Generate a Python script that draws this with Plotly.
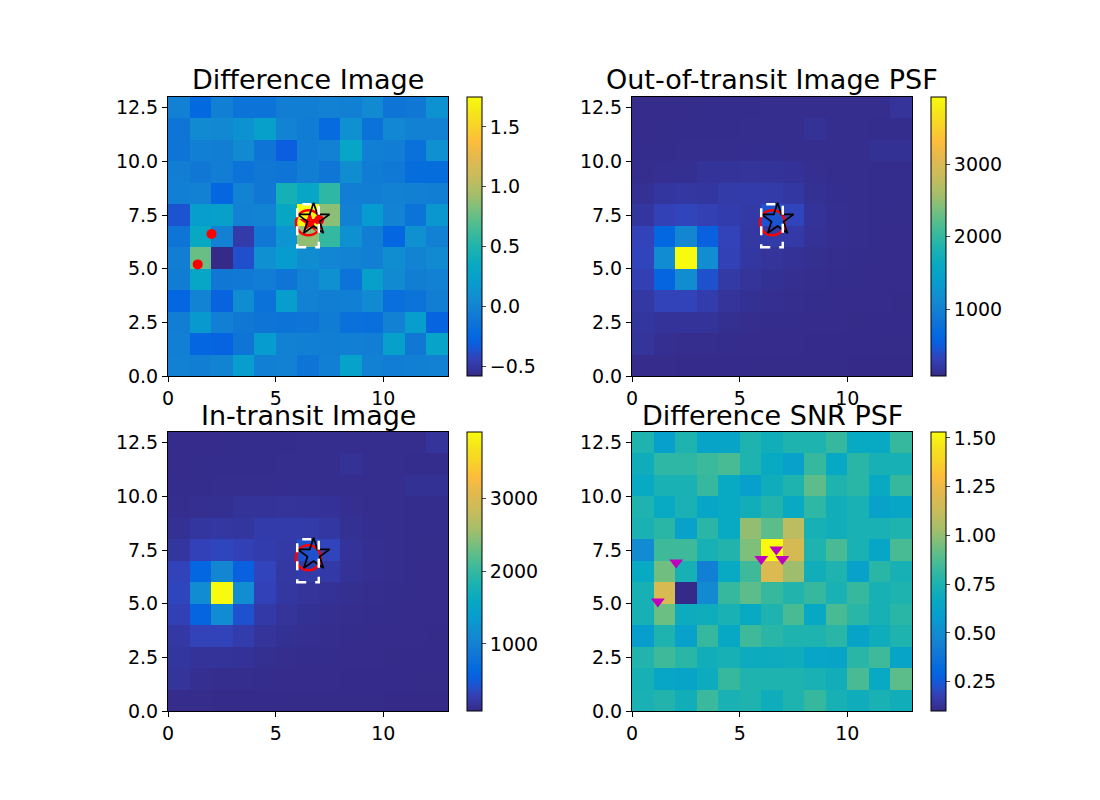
import plotly.graph_objects as go

# parula-like colour scale (matplotlib/MATLAB style)
parula = [
    [0.000, "#352a87"], [0.063, "#3243ba"], [0.111, "#0f5cdd"], [0.143, "#0268e1"],
    [0.206, "#1077d5"], [0.270, "#1389d2"], [0.333, "#079ccf"], [0.397, "#07a9c2"],
    [0.460, "#1db3af"], [0.524, "#42bb98"], [0.587, "#71bf80"], [0.651, "#a5be6a"],
    [0.714, "#c8bc5b"], [0.778, "#e1b94e"], [0.841, "#fdbd3c"], [0.889, "#f8d12a"],
    [0.937, "#f5e21c"], [1.000, "#f9fb0e"],
]

# rows listed from y=0 (bottom) to y=12 (top), 13 columns each
diff_image = [
    [-0.02, -0.04, -0.01, 0.22, -0.03, -0.02, -0.12, -0.03, 0.26, -0.02, -0.05, -0.03, -0.02],
    [-0.03, -0.26, -0.27, -0.12, 0.20, -0.02, -0.03, -0.04, -0.03, -0.05, 0.24, -0.10, 0.28],
    [-0.04, 0.18, -0.03, -0.10, -0.12, -0.13, -0.12, -0.06, -0.16, -0.18, -0.02, 0.22, -0.27],
    [-0.26, -0.01, -0.28, 0.08, -0.15, 0.22, -0.02, -0.04, -0.03, 0.06, -0.18, -0.14, -0.04],
    [-0.06, 0.30, -0.10, -0.09, -0.05, -0.12, 0.00, 0.10, -0.14, 0.24, 0.06, -0.04, -0.02],
    [-0.04, 0.76, -0.58, -0.38, 0.10, 0.20, 0.08, 0.02, 0.00, -0.03, 0.08, -0.01, 0.06],
    [-0.12, 0.34, -0.02, -0.48, -0.10, 0.14, 0.88, 0.58, 0.10, -0.04, -0.26, 0.10, -0.02],
    [-0.36, 0.22, 0.24, -0.02, 0.00, 0.32, 1.75, 0.86, -0.02, 0.20, 0.00, -0.14, 0.16],
    [-0.03, -0.02, -0.26, -0.01, -0.10, 0.44, 0.30, 0.56, -0.05, -0.04, -0.02, -0.03, -0.04],
    [-0.04, -0.10, -0.05, -0.14, -0.10, -0.12, -0.04, -0.11, 0.08, -0.06, -0.08, -0.20, -0.20],
    [-0.12, -0.03, -0.04, 0.06, -0.12, -0.30, -0.05, -0.02, 0.30, -0.03, -0.05, -0.16, 0.10],
    [-0.12, 0.06, 0.04, 0.12, 0.24, 0.00, -0.06, -0.22, 0.10, -0.15, 0.04, -0.02, -0.02],
    [-0.02, -0.24, -0.03, -0.14, -0.14, -0.04, -0.04, -0.02, -0.03, 0.06, -0.12, -0.10, 0.12],
]

oot_image = [
    [100, 96, 92, 90, 88, 86, 85, 84, 83, 82, 80, 78, 76],
    [170, 120, 115, 110, 105, 100, 96, 94, 92, 90, 88, 86, 84],
    [190, 160, 165, 160, 130, 115, 108, 104, 100, 96, 92, 90, 88],
    [210, 310, 320, 250, 170, 140, 125, 115, 108, 102, 98, 95, 92],
    [290, 600, 1160, 420, 220, 170, 140, 125, 115, 108, 102, 98, 95],
    [330, 1150, 3928, 1180, 300, 200, 170, 150, 130, 115, 108, 102, 98],
    [310, 620, 1080, 560, 320, 210, 240, 230, 150, 120, 110, 104, 100],
    [190, 300, 330, 290, 250, 220, 440, 330, 165, 125, 112, 106, 102],
    [140, 190, 200, 195, 240, 245, 240, 200, 140, 118, 110, 106, 104],
    [115, 125, 130, 165, 165, 170, 165, 155, 120, 112, 110, 108, 108],
    [105, 108, 110, 112, 115, 118, 118, 115, 112, 110, 112, 140, 140],
    [100, 102, 104, 106, 108, 110, 112, 114, 150, 114, 110, 108, 108],
    [98, 100, 102, 104, 106, 108, 110, 112, 114, 114, 112, 114, 170],
]

intransit_image = [
    [100, 96, 92, 90, 88, 86, 85, 84, 83, 82, 80, 78, 76],
    [172, 120, 114, 110, 105, 100, 96, 94, 92, 90, 88, 86, 84],
    [188, 162, 166, 158, 130, 115, 108, 104, 100, 96, 92, 90, 88],
    [212, 312, 318, 252, 170, 140, 125, 115, 108, 102, 98, 95, 92],
    [292, 596, 1150, 424, 222, 170, 140, 125, 115, 108, 102, 98, 95],
    [332, 1146, 3915, 1176, 302, 200, 170, 150, 130, 115, 108, 102, 98],
    [312, 616, 1076, 556, 322, 210, 236, 226, 150, 120, 110, 104, 100],
    [190, 302, 332, 292, 252, 220, 420, 322, 165, 125, 112, 106, 102],
    [140, 190, 200, 196, 240, 244, 236, 200, 140, 118, 110, 106, 104],
    [115, 125, 130, 165, 165, 170, 165, 155, 120, 112, 110, 108, 108],
    [105, 108, 110, 112, 115, 118, 118, 115, 112, 110, 112, 140, 140],
    [100, 102, 104, 106, 108, 110, 112, 114, 150, 114, 110, 108, 108],
    [98, 100, 102, 104, 106, 108, 110, 112, 114, 114, 112, 114, 170],
]

snr_image = [
    [0.74, 0.77, 0.71, 0.83, 0.74, 0.76, 0.70, 0.76, 0.82, 0.73, 0.70, 0.74, 0.71],
    [0.73, 0.64, 0.63, 0.69, 0.82, 0.76, 0.76, 0.76, 0.74, 0.71, 0.86, 0.67, 0.90],
    [0.77, 0.84, 0.79, 0.71, 0.73, 0.69, 0.69, 0.70, 0.64, 0.63, 0.79, 0.84, 0.63],
    [0.59, 0.76, 0.61, 0.82, 0.66, 0.84, 0.79, 0.76, 0.76, 0.79, 0.63, 0.70, 0.76],
    [0.73, 0.93, 0.69, 0.70, 0.74, 0.67, 0.76, 0.86, 0.66, 0.86, 0.79, 0.73, 0.79],
    [0.73, 1.18, 0.10, 0.49, 0.82, 0.90, 0.82, 0.77, 0.82, 0.74, 0.82, 0.73, 0.76],
    [0.67, 0.94, 0.73, 0.44, 0.67, 0.84, 1.19, 1.02, 0.71, 0.76, 0.61, 0.79, 0.73],
    [0.50, 0.84, 0.84, 0.73, 0.77, 0.96, 1.53, 1.17, 0.76, 0.86, 0.74, 0.64, 0.86],
    [0.74, 0.79, 0.61, 0.79, 0.67, 1.00, 0.90, 1.09, 0.73, 0.71, 0.74, 0.74, 0.76],
    [0.76, 0.67, 0.74, 0.64, 0.67, 0.71, 0.77, 0.67, 0.80, 0.71, 0.74, 0.61, 0.64],
    [0.67, 0.74, 0.74, 0.82, 0.67, 0.60, 0.70, 0.76, 0.90, 0.76, 0.79, 0.67, 0.82],
    [0.70, 0.80, 0.80, 0.83, 0.86, 0.76, 0.67, 0.61, 0.82, 0.66, 0.79, 0.73, 0.73],
    [0.76, 0.60, 0.76, 0.63, 0.63, 0.76, 0.71, 0.76, 0.76, 0.82, 0.67, 0.67, 0.82],
]

titles = ["Difference Image", "Out-of-transit Image PSF", "In-transit Image", "Difference SNR PSF"]

# source positions
ring_xy = (6.52, 7.14)
target_star_xy = (6.76, 7.29)
centroid_star_xy = (6.58, 7.15)
centroid_dot_xy = (7.02, 7.27)
diff_dots_x = [1.38, 2.02]
diff_dots_y = [5.2, 6.62]
snr_tri_x = [1.2, 2.05, 6.0, 6.7, 6.98]
snr_tri_y = [5.1, 6.92, 7.08, 7.52, 7.08]

# aperture box
box_x = (6, 7)
box_y = (6, 8)

W, H = 1100, 800
OFF = 8  # page body margin in front of the plot div
panels = [
    # (z, zmin, zmax, colorbar ticks, format, x px, y px)
    (diff_image, -0.58, 1.75, [-0.5, 0.0, 0.5, 1.0, 1.5], ".1f", 168, 97),
    (oot_image, 76, 3928, [1000, 2000, 3000], "d", 632, 97),
    (intransit_image, 76, 3915, [1000, 2000, 3000], "d", 168, 432),
    (snr_image, 0.10, 1.53, [0.25, 0.5, 0.75, 1.0, 1.25, 1.5], ".2f", 632, 432),
]
aw, ah = 280, 279

fig = go.Figure()
font = dict(family="DejaVu Sans", size=19, color="black")

for i, (z, zmin, zmax, cticks, cfmt, px, py) in enumerate(panels):
    n = "" if i == 0 else str(i + 1)
    px -= OFF
    py -= OFF
    fig.add_trace(go.Heatmap(
        z=z, x0=0.5, dx=1, y0=0.5, dy=1, zmin=zmin, zmax=zmax,
        colorscale=parula, xaxis="x" + n, yaxis="y" + n,
        colorbar=dict(x=(px + aw + 19) / W, xanchor="left", y=1 - (py + ah / 2) / H,
                      yanchor="middle", len=ah / H, thickness=15,
                      outlinecolor="black", outlinewidth=1,
                      tickvals=cticks, tickformat=cfmt, ticks="outside", ticklen=4,
                      tickfont=font, xpad=0, ypad=0),
        hoverinfo="skip",
    ))
    fig.layout["xaxis" + n] = dict(
        domain=[px / W, (px + aw) / W], range=[0, 13], tickvals=[0, 5, 10],
        anchor="y" + n, showline=True, mirror=True, linecolor="black", linewidth=1,
        ticks="outside", ticklen=5, tickcolor="black", tickfont=font, showgrid=False,
        zeroline=False, automargin=False)
    fig.layout["yaxis" + n] = dict(
        domain=[1 - (py + ah) / H, 1 - py / H], range=[0, 13],
        tickvals=[0, 2.5, 5, 7.5, 10, 12.5], tickformat=".1f",
        anchor="x" + n, showline=True, mirror=True, linecolor="black", linewidth=1,
        ticks="outside", ticklen=5, tickcolor="black", tickfont=font, showgrid=False,
        zeroline=False, automargin=False)
    fig.add_annotation(text=titles[i], x=(px + aw / 2) / W, y=1 - (py - 17) / H,
                       xref="paper", yref="paper", xanchor="center", yanchor="middle",
                       showarrow=False, font=dict(family="DejaVu Sans", size=27, color="black"))

    if i < 3:
        fig.add_shape(type="rect", x0=box_x[0], x1=box_x[1], y0=box_y[0], y1=box_y[1],
                      xref="x" + n, yref="y" + n,
                      line=dict(color="white", width=2.5, dash="dash"))
        fig.add_trace(go.Scatter(x=[ring_xy[0]], y=[ring_xy[1]], mode="markers",
                                 xaxis="x" + n, yaxis="y" + n, showlegend=False,
                                 marker=dict(symbol="circle-open", size=25, color="red",
                                             line=dict(width=2.5, color="red"))))
        if i == 0:
            fig.add_trace(go.Scatter(x=[centroid_star_xy[0]], y=[centroid_star_xy[1]],
                                     mode="markers", xaxis="x", yaxis="y", showlegend=False,
                                     marker=dict(symbol="star", size=16, color="red")))
            fig.add_trace(go.Scatter(x=[centroid_dot_xy[0]], y=[centroid_dot_xy[1]],
                                     mode="markers", xaxis="x", yaxis="y", showlegend=False,
                                     marker=dict(symbol="circle", size=10, color="red")))
            fig.add_trace(go.Scatter(x=diff_dots_x, y=diff_dots_y, mode="markers",
                                     xaxis="x", yaxis="y", showlegend=False,
                                     marker=dict(symbol="circle", size=10, color="red")))
        fig.add_trace(go.Scatter(x=[target_star_xy[0]], y=[target_star_xy[1]], mode="markers",
                                 xaxis="x" + n, yaxis="y" + n, showlegend=False,
                                 marker=dict(symbol="star-open", size=24, color="black",
                                             line=dict(width=1.7, color="black"))))
    else:
        fig.add_trace(go.Scatter(x=snr_tri_x, y=snr_tri_y, mode="markers",
                                 xaxis="x4", yaxis="y4", showlegend=False,
                                 marker=dict(symbol="triangle-down", size=12, color="#bf00bf")))

fig.update_layout(template="none", width=W, height=H, margin=dict(l=0, r=0, t=0, b=0),
                  paper_bgcolor="white", plot_bgcolor="white", showlegend=False,
                  font=font)

fig.write_html("out.html")
